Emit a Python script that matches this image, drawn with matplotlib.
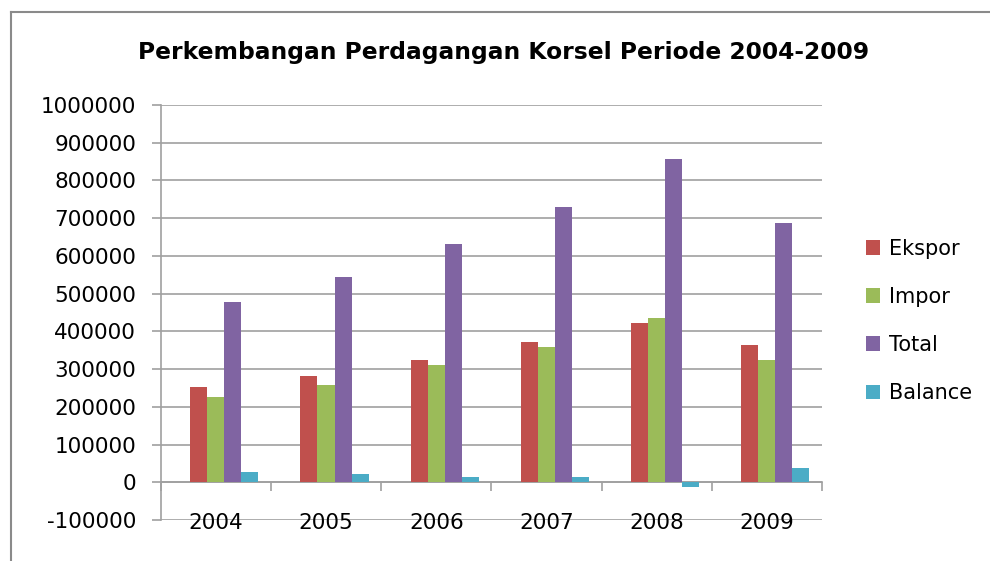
import matplotlib
matplotlib.use("Agg")
import matplotlib.pyplot as plt
import matplotlib.transforms as mtransforms
from matplotlib.lines import Line2D
from matplotlib.patches import Patch
import numpy as np

years = ["2004", "2005", "2006", "2007", "2008", "2009"]
ekspor = [252000, 283000, 324000, 371000, 422000, 365000]
impor = [225000, 259000, 310000, 358000, 436000, 324000]
total = [477000, 545000, 632000, 729000, 857000, 687000]
balance = [28000, 21000, 15000, 15000, -12000, 38000]

series_names = ["Ekspor", "Impor", "Total", "Balance"]
colors = ["#C0504D", "#9BBB59", "#8064A2", "#4BACC6"]
y_ticks = list(range(-100000, 1000001, 100000))

W, H = 990, 561
fig = plt.figure(figsize=(W / 100, H / 100), dpi=100)
fig.patch.set_facecolor("white")

# chart border (top and left)
fig.add_artist(Line2D([11 / W, 1.0], [1 - 12 / H, 1 - 12 / H], color="#8a8a8a", lw=1.5))
fig.add_artist(Line2D([11 / W, 11 / W], [0, 1 - 12 / H], color="#8a8a8a", lw=1.5))

ax = fig.add_axes([161 / W, 1 - 520 / H, (822 - 161) / W, (520 - 105) / H])

x = np.arange(len(years))
bw = 0.155
shift = 0.075
for k, (vals, name, c) in enumerate(zip([ekspor, impor, total, balance], series_names, colors)):
    ax.bar(x + (k - 1.5) * bw + shift, vals, width=bw, color=c, label=name, zorder=3,
           edgecolor="none")

ax.set_xlim(-0.5, len(years) - 0.5)
ax.set_ylim(-100000, 1000000)
ax.set_yticks(y_ticks)
ax.set_yticklabels([str(v) for v in y_ticks])
grid_c = "#a0a0a0"
ax.yaxis.grid(True, color=grid_c, lw=1.2, zorder=0)
ax.set_axisbelow(True)
ax.tick_params(axis="y", direction="out", length=6.5, width=1.2, color=grid_c,
               labelsize=15.5, pad=11.5, labelcolor="black")

for s in ["top", "right"]:
    ax.spines[s].set_visible(False)
ax.spines["left"].set_color(grid_c)
ax.spines["left"].set_linewidth(1.2)
ax.spines["bottom"].set_position(("data", 0))
ax.spines["bottom"].set_color(grid_c)
ax.spines["bottom"].set_linewidth(1.2)

bounds = np.arange(len(years) + 1) - 0.5
ax.set_xticks(bounds)
ax.set_xticklabels([""] * len(bounds))
ax.tick_params(axis="x", direction="out", length=6.5, width=1.2, color=grid_c)

off = mtransforms.offset_copy(ax.transData, fig=fig, x=0, y=-3, units="dots")
for i, yr in enumerate(years):
    ax.text(i, -100000, yr, ha="center", va="center", fontsize=15.5, color="black",
            transform=off, zorder=5)

fig.text(504 / W, 1 - 52 / H, "Perkembangan Perdagangan Korsel Periode 2004-2009",
         ha="center", va="center", fontsize=16.8, fontweight="bold", color="black")

handles = [Patch(facecolor=c, edgecolor="none") for c in colors]
fig.legend(handles, series_names, loc="center left", bbox_to_anchor=(847 / W, 1 - 321 / H),
           frameon=False, fontsize=15, handlelength=0.7, handleheight=0.7,
           handletextpad=0.4, labelspacing=1.35)

fig.savefig("out.png", dpi=100, facecolor="white")
